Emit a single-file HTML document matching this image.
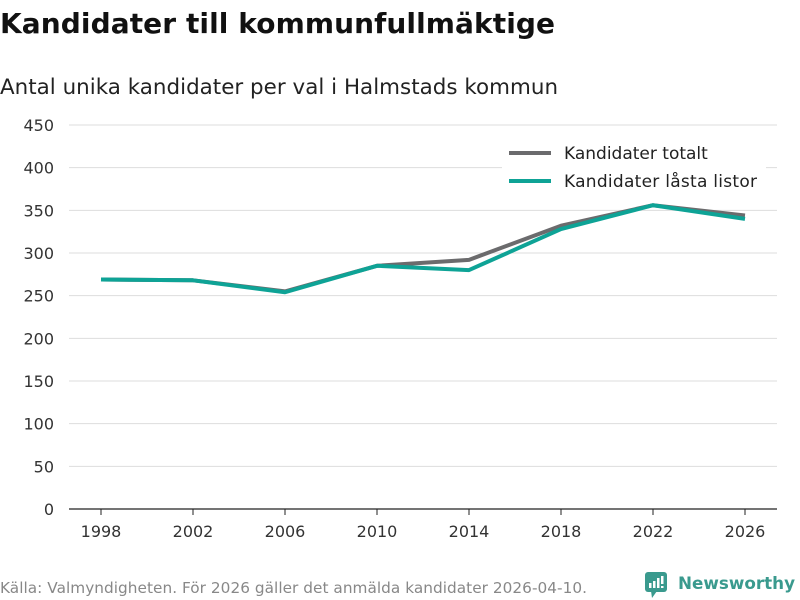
<!DOCTYPE html>
<html><head><meta charset="utf-8"><style>
body{margin:0;background:#fff;font-family:"DejaVu Sans","Liberation Sans",sans-serif;}
#c{position:relative;width:800px;height:600px;overflow:hidden;}
</style></head><body>
<div id="c">
<svg width="800" height="600" xmlns="http://www.w3.org/2000/svg" id="svg">
<text x="0" y="33" font-size="28" font-weight="bold" fill="#111" textLength="555">Kandidater till kommunfullmäktige</text>
<text x="0" y="94" font-size="21.4" fill="#222" textLength="558">Antal unika kandidater per val i Halmstads kommun</text>
<g id="grid"></g>
<g id="lines"></g>
<g>
<rect x="502" y="140" width="264" height="58" fill="#fff"/>
<line x1="509" y1="153" x2="551" y2="153" stroke="#6b6b6d" stroke-width="4"/>
<text x="564" y="159" font-size="17" fill="#222">Kandidater totalt</text>
<line x1="509" y1="181" x2="551" y2="181" stroke="#0ea396" stroke-width="4"/>
<text x="564" y="187" font-size="17" fill="#222" textLength="193">Kandidater låsta listor</text>
</g>
<text x="0" y="593" font-size="15.3" fill="#888" textLength="587">Källa: Valmyndigheten. För 2026 gäller det anmälda kandidater 2026-04-10.</text>
<g>
<rect x="645" y="572" width="22" height="20" rx="3" fill="#3a9a8e"/>
<polygon points="651,591 657,591 652,598" fill="#3a9a8e"/>
<rect x="649" y="583" width="2.5" height="5" fill="#fff"/><rect x="653" y="581" width="2.5" height="7" fill="#fff"/><rect x="657" y="578" width="2.5" height="10" fill="#fff"/><rect x="661" y="576" width="2.5" height="8" fill="#fff"/><rect x="661" y="586" width="2.5" height="2" fill="#fff"/>
<text x="678" y="589" font-size="17" font-weight="bold" fill="#3a9a8e" textLength="117" lengthAdjust="spacingAndGlyphs">Newsworthy</text>
</g>
</svg>
</div>
<script>
const years=["1998","2002","2006","2010","2014","2018","2022","2026"];
const totalt=[269,268,255,285,292,332,356,344];
const lasta=[269,268,254,285,280,328,356,340];
const yTicks=[0,50,100,150,200,250,300,350,400,450];
const NS="http://www.w3.org/2000/svg";
const x0=101,x1=745,yBase=509,yTop=125,yMax=450;
function xs(i){return x0+(x1-x0)*i/(years.length-1);}
function ys(v){return yBase-(yBase-yTop)*v/yMax;}
const grid=document.getElementById('grid'),lines=document.getElementById('lines');
function mk(t,a,p){const e=document.createElementNS(NS,t);for(const k in a)e.setAttribute(k,a[k]);p.appendChild(e);return e;}
yTicks.forEach(v=>{
  const l=mk('line',{x1:69,x2:777,y1:ys(v),y2:ys(v),stroke:v===0?'#222':'#ddd','stroke-width':v===0?1.3:1},grid);
  
  
  const t=mk('text',{x:54,y:ys(v)+6,'text-anchor':'end','font-size':16,fill:'#333'},grid);
  t.textContent=v;
  
  
});
years.forEach((y,i)=>{
  const tk=mk('line',{x1:xs(i),x2:xs(i),y1:yBase,y2:yBase+6,stroke:'#222'},grid);
  
  
  const t=mk('text',{x:xs(i),y:537,'text-anchor':'middle','font-size':16,fill:'#333'},grid);
  t.textContent=y;
  
  
});
function path(d,col,name){
  const p=mk('path',{d:d.map((v,i)=>(i?'L':'M')+xs(i)+','+ys(v)).join(''),fill:'none',stroke:col,'stroke-width':4,'stroke-linejoin':'round'},lines);
  
  
}
path(totalt,'#6b6b6d','line-kandidater-totalt');
path(lasta,'#0ea396','line-kandidater-lasta-listor');
</script>
</body></html>
